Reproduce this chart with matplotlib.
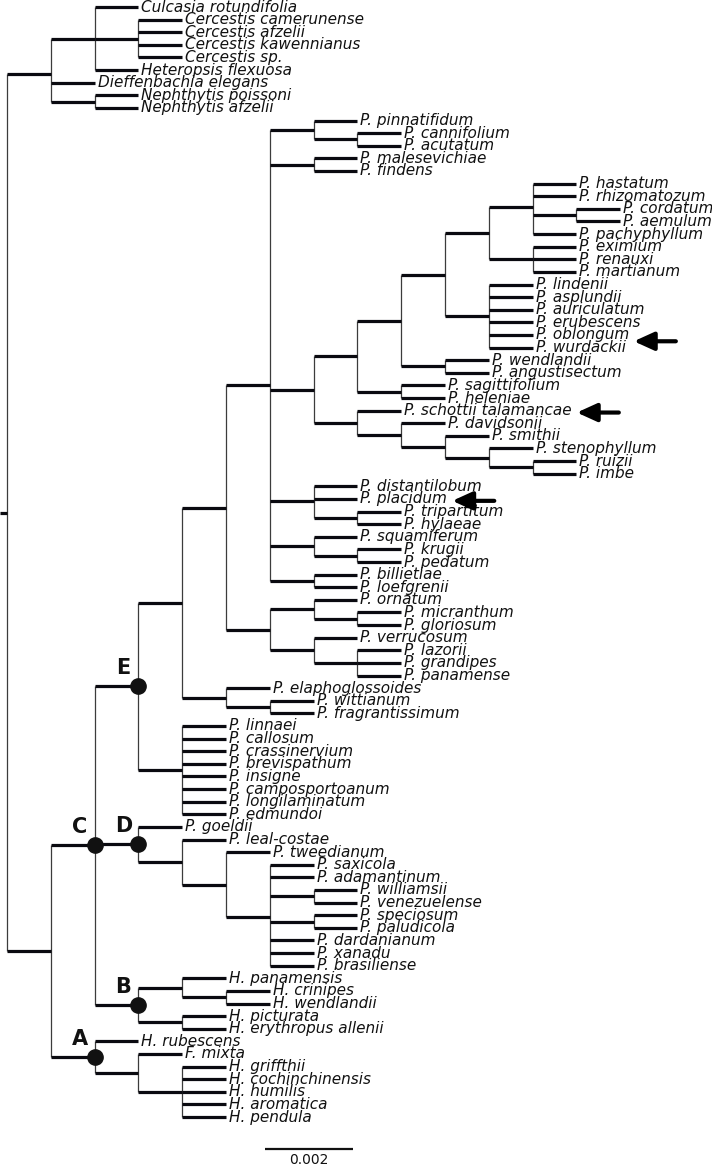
import matplotlib
matplotlib.use("Agg")
import matplotlib.pyplot as plt
from matplotlib.collections import LineCollection

# tree topology, split into clades (Newick, no lengths; internal labels after ")")
outgroup = ("((Culcasia rotundifolia,(Cercestis camerunense,Cercestis afzelii,"
            "Cercestis kawennianus,Cercestis sp.),Heteropsis flexuosa),"
            "Dieffenbachia elegans,(Nephthytis poissoni,Nephthytis afzelii))")
grp_hastatum = ("((P. hastatum,P. rhizomatozum,(P. cordatum,P. aemulum),P. pachyphyllum),"
                "(P. eximium,P. renauxi,P. martianum))")
grp_lindenii = "(P. lindenii,P. asplundii,P. auriculatum,P. erubescens,P. oblongum,P. wurdackii)"
grp_wendlandii = "(P. wendlandii,P. angustisectum)"
grp_sagittifolium = "(P. sagittifolium,P. heleniae)"
grp_schottii = "(P. schottii talamancae,(P. davidsonii,(P. smithii,(P. stenophyllum,(P. ruizii,P. imbe)))))"
grp_pinnatifidum = "(P. pinnatifidum,(P. cannifolium,P. acutatum))"
grp_malesevichiae = "(P. malesevichiae,P. findens)"
grp_distantilobum = "(P. distantilobum,P. placidum,(P. tripartitum,P. hylaeae))"
grp_squamiferum = "(P. squamiferum,(P. krugii,P. pedatum))"
grp_billietiae = "(P. billietiae,P. loefgrenii)"
grp_ornatum = ("((P. ornatum,(P. micranthum,P. gloriosum)),"
               "(P. verrucosum,(P. lazorii,P. grandipes,P. panamense)))")
grp_elaphoglossoides = "(P. elaphoglossoides,(P. wittianum,P. fragrantissimum))"
grp_linnaei = ("(P. linnaei,P. callosum,P. crassinervium,P. brevispathum,P. insigne,"
               "P. camposportoanum,P. longilaminatum,P. edmundoi)")
clade_D = ("(P. goeldii,(P. leal-costae,(P. tweedianum,(P. saxicola,P. adamantinum,"
           "(P. williamsii,P. venezuelense),(P. speciosum,P. paludicola),"
           "P. dardanianum,P. xanadu,P. brasiliense))))D")
clade_B = "((H. panamensis,(H. crinipes,H. wendlandii)),(H. picturata,H. erythropus allenii))B"
clade_A = "(H. rubescens,(F. mixta,(H. griffthii,H. cochinchinensis,H. humilis,H. aromatica,H. pendula)))A"

branch_len = 0.001          # every branch in the figure is the same length
scale_len = 0.002
scale_start = 0.0059
node_labels = ["A", "B", "C", "D", "E"]
arrow_taxa = ["P. oblongum", "P. schottii talamancae", "P. placidum"]
arrow_dy = [0.5, 0.15, 0.15]   # small vertical nudge of each arrow (leaf units)

core = (f"(((({grp_hastatum},{grp_lindenii}),{grp_wendlandii}),"
        f"{grp_sagittifolium}),{grp_schottii})")
clade_E = (f"(((({grp_pinnatifidum},{grp_malesevichiae},{core},{grp_distantilobum},"
           f"{grp_squamiferum},{grp_billietiae}),{grp_ornatum}),{grp_elaphoglossoides}),"
           f"{grp_linnaei})E")
tree_str = f"({outgroup},(({clade_E},{clade_D},{clade_B})C,{clade_A}))"


def parse_newick(s):
    pos = 0

    def node():
        nonlocal pos
        kids = []
        if s[pos] == "(":
            pos += 1
            kids.append(node())
            while s[pos] == ",":
                pos += 1
                kids.append(node())
            pos += 1
        start = pos
        while pos < len(s) and s[pos] not in ",()":
            pos += 1
        return {"name": s[start:pos].strip(), "children": kids}

    return node()


root = parse_newick(tree_str)

# layout: leaves one row apart, internal nodes at mean of children
leaves = []


def layout(nd, x):
    nd["x"] = x
    if not nd["children"]:
        nd["y"] = len(leaves)
        leaves.append(nd)
        return
    for c in nd["children"]:
        layout(c, x + branch_len)
    nd["y"] = sum(c["y"] for c in nd["children"]) / len(nd["children"])


layout(root, 0.0)

h_segs, v_segs, marked = [], [], []


def collect(nd):
    if nd["children"]:
        ys = [c["y"] for c in nd["children"]]
        v_segs.append([(nd["x"], min(ys)), (nd["x"], max(ys))])
        for c in nd["children"]:
            h_segs.append([(nd["x"], c["y"]), (c["x"], c["y"])])
            collect(c)
        if nd["name"] in node_labels:
            marked.append(nd)


collect(root)
h_segs.append([(-0.00016, root["y"]), (0.0, root["y"])])

W, H = 712, 1166
fig = plt.figure(figsize=(W / 100, H / 100), dpi=100)
ax = fig.add_axes([0, 0, 1, 1])
px_x = 0.001 / 43.8
px_y = 1 / 12.614
ax.set_xlim(-7 * px_x, (W - 7) * px_x)
ax.set_ylim((H - 7) * px_y, -7 * px_y)
ax.axis("off")

ax.add_collection(LineCollection(v_segs, colors="#3c3c3c", linewidths=0.9, zorder=1))
ax.add_collection(LineCollection(h_segs, colors="#0a0a10", linewidths=2.3, zorder=2))

texts = {}
for lf in leaves:
    t = ax.text(lf["x"] + 3 * px_x, lf["y"], lf["name"], fontsize=11, style="italic",
                va="center", ha="left", color="#111111", zorder=3)
    texts[lf["name"]] = t

for nd in marked:
    ax.plot(nd["x"], nd["y"], "o", ms=11, color="#111111", zorder=4)
    ax.annotate(nd["name"], (nd["x"], nd["y"]), xytext=(-15, 18), textcoords="offset pixels",
                fontsize=15, fontweight="bold", ha="center", va="center", color="#111111")

# arrows next to the highlighted taxa
fig.canvas.draw()
rend = fig.canvas.get_renderer()
inv = ax.transData.inverted()
for name, dy in zip(arrow_taxa, arrow_dy):
    bb = texts[name].get_window_extent(renderer=rend)
    tip = inv.transform((bb.x1 + 5, 0))[0]
    tail = inv.transform((bb.x1 + 47, 0))[0]
    y = next(l["y"] for l in leaves if l["name"] == name) + dy
    ax.annotate("", xy=(tip, y), xytext=(tail, y),
                arrowprops=dict(arrowstyle="-|>,head_length=1.1,head_width=0.5",
                                lw=3, color="black", mutation_scale=11,
                                shrinkA=0, shrinkB=0))

# scale bar
sb_y = 90.55
ax.plot([scale_start, scale_start + scale_len], [sb_y, sb_y], color="#111111", lw=1.6,
        solid_capstyle="butt")
ax.text(scale_start + scale_len / 2, sb_y + 0.85, f"{scale_len:g}", fontsize=10,
        ha="center", va="center", color="#111111")

fig.savefig("out.png", dpi=100)
